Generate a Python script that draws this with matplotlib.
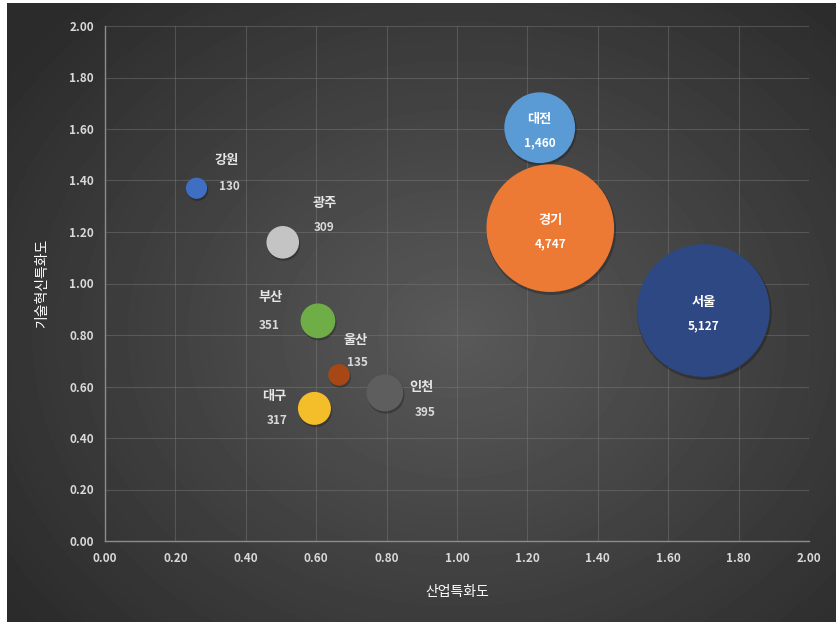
import numpy as np
import matplotlib
matplotlib.use("Agg")
import matplotlib.pyplot as plt

plt.rcParams['font.family'] = ['Noto Sans CJK KR', 'DejaVu Sans']

# regional specialisation data
regions = ['강원', '광주', '부산', '울산', '대구', '인천', '대전', '경기', '서울']
industry = [0.26, 0.505, 0.605, 0.665, 0.595, 0.795, 1.235, 1.265, 1.70]
innovation = [1.37, 1.16, 0.855, 0.645, 0.515, 0.575, 1.605, 1.215, 0.895]
counts = [130, 309, 351, 135, 317, 395, 1460, 4747, 5127]
colors = ['#3e6fc2', '#c4c4c4', '#6fad47', '#a84716', '#f4bd2a',
          '#5e5e5e', '#5b9bd5', '#ec7a34', '#2d4883']

# label offsets in points (name, value); None -> label inside bubble
offsets = [((22, 20), (24, 1)), ((30, 28), (30, 11)), ((-34, 17), (-35, -3)),
           ((12, 25), (13, 9)), ((-29, 9), (-27, -9)), ((26, 4), (29, -14)),
           None, None, None]

fig = plt.figure(figsize=(8.36, 6.25), dpi=100)

# dark radial background panel
bg = fig.add_axes([7 / 836, 3 / 625, 829 / 836, 619 / 625])
yy, xx = np.mgrid[0:619, 0:829]
d = np.sqrt(((xx - 450) / 520) ** 2 + ((yy - 330) / 430) ** 2)
shade = np.clip(0.35 - 0.17 * d, 0.17, 0.35)
bg.imshow(shade, cmap='gray', vmin=0, vmax=1, aspect='auto')
bg.axis('off')

ax = fig.add_axes([105 / 836, 84 / 625, 704 / 836, 515 / 625])
ax.set_facecolor('none')
ax.set_xlim(0, 2)
ax.set_ylim(0, 2)
ax.set_xticks(np.arange(0, 2.01, 0.2))
ax.set_yticks(np.arange(0, 2.01, 0.2))
ax.xaxis.set_major_formatter(matplotlib.ticker.FormatStrFormatter('%.2f'))
ax.yaxis.set_major_formatter(matplotlib.ticker.FormatStrFormatter('%.2f'))
ax.grid(True, color='#7a7a7a', linewidth=0.8, alpha=0.45)
ax.set_axisbelow(True)
for side in ['top', 'right']:
    ax.spines[side].set_visible(False)
for side in ['left', 'bottom']:
    ax.spines[side].set_color('#8c8c8c')
    ax.spines[side].set_linewidth(1.0)
ax.tick_params(length=0, colors='#d9d9d9', labelsize=8.5, pad=8)
for lbl in ax.get_xticklabels() + ax.get_yticklabels():
    lbl.set_fontweight('bold')

sizes = [1.78 * c for c in counts]

# soft shadow, then bubbles
shift = matplotlib.transforms.ScaledTranslation(1 / 100, -2 / 100, fig.dpi_scale_trans)
ax.scatter(industry, innovation, s=[s * 1.03 for s in sizes], c='black',
           alpha=0.25, linewidths=0, zorder=2, transform=ax.transData + shift)
ax.scatter(industry, innovation, s=sizes, c=colors, linewidths=0, zorder=3)

for name, x, y, n, off in zip(regions, industry, innovation, counts, offsets):
    if off is None:
        ax.annotate(name, (x, y), xytext=(0, 6), textcoords='offset points',
                    ha='center', va='center', color='white', fontsize=9.5,
                    fontweight='bold', zorder=4)
        ax.annotate(f'{n:,}', (x, y), xytext=(0, -11), textcoords='offset points',
                    ha='center', va='center', color='white', fontsize=8.5,
                    fontweight='bold', zorder=4)
    else:
        ax.annotate(name, (x, y), xytext=off[0], textcoords='offset points',
                    ha='center', va='center', color='#e6e6e6', fontsize=9.5,
                    fontweight='bold', zorder=4)
        ax.annotate(f'{n:,}', (x, y), xytext=off[1], textcoords='offset points',
                    ha='center', va='center', color='#d9d9d9', fontsize=8.5,
                    fontweight='bold', zorder=4)

ax.set_xlabel('산업특화도', color='white', fontsize=10, labelpad=14)
ax.set_ylabel('기술혁신특화도', color='white', fontsize=10, labelpad=14)

fig.savefig('out.png', dpi=100, facecolor='white')
